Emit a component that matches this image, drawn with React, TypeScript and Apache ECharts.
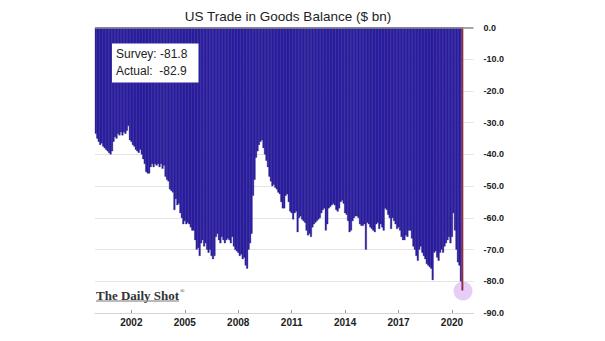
import React, { useEffect, useRef } from "react";
import * as echarts from "echarts";

// Monthly US goods trade balance ($ bn), Jan 2000 – Aug 2020
const y2000 = [-33.5, -35, -36, -37, -36.5, -37.5, -38, -38.5, -39, -39.5, -40, -39];
const y2001 = [-36, -34.5, -35, -33.5, -34, -33, -34, -33, -33.5, -32.5, -31, -35.5];
const y2002 = [-36, -37, -37.5, -38.5, -39, -39.5, -38.5, -40, -41.5, -43, -45.5, -46];
const y2003 = [-46, -44, -43, -44, -43, -43.5, -43, -44, -43, -44.5, -43.5, -47];
const y2004 = [-48, -48.5, -51, -51.5, -52, -57.5, -54, -56, -55.5, -58.5, -60, -62];
const y2005 = [-61, -62, -61.5, -62, -63, -64, -64, -67, -70, -69.5, -72, -68];
const y2006 = [-67, -69, -68, -70, -71, -70, -72, -73, -72, -66, -65, -67];
const y2007 = [-68, -66, -67, -68, -67, -66.5, -67, -68, -66, -69, -70, -70.5];
const y2008 = [-71, -72, -71.5, -73, -72.5, -75, -76, -70, -68, -65, -53, -48];
const y2009 = [-41, -39, -37, -36, -35.5, -38, -40, -42, -44, -47, -48.5, -50];
const y2010 = [-49.5, -50.5, -51, -52, -52.5, -55, -57, -57, -53, -52.5, -55, -58];
const y2011 = [-58.5, -60.5, -58.5, -58, -64.5, -60, -59.5, -60.5, -61, -61.5, -64, -65.5];
const y2012 = [-65, -66, -63, -62, -61.5, -61, -60.5, -60, -58.5, -57.5, -57, -64];
const y2013 = [-62, -57, -56.5, -56, -55.5, -56, -57.5, -58, -57, -55, -54.5, -55.5];
const y2014 = [-58.5, -59, -61, -64.5, -64, -61, -60, -59.5, -59.5, -60, -62, -62.5];
const y2015 = [-62.5, -62, -70, -61.5, -62, -63, -63.5, -64, -64.5, -62, -61.5, -63.5];
const y2016 = [-62, -63, -64, -57, -57.5, -59, -60, -63.5, -60, -61, -62, -63.5];
const y2017 = [-63, -64, -66, -67, -67, -65.5, -66, -64, -64, -66.5, -69, -70];
const y2018 = [-72, -73.5, -70, -69, -71, -72, -73, -74.5, -75, -75.5, -76, -79.6];
const y2019 = [-71, -70.5, -72.5, -73.5, -71, -70, -71, -69, -68, -67, -66, -68];
const y2020 = [-66, -58.5, -64, -70, -74, -75, -80, -82.9];

const yearly = [y2000, y2001, y2002, y2003, y2004, y2005, y2006, y2007, y2008, y2009, y2010,
  y2011, y2012, y2013, y2014, y2015, y2016, y2017, y2018, y2019, y2020];
const startYear = 2000;
const xTickYears = [2002, 2005, 2008, 2011, 2014, 2017, 2020];
const padMonths = 7; // empty slots after last bar
const titleText = "US Trade in Goods Balance ($ bn)";
const surveyText = "Survey: -81.8";
const actualText = "Actual:  -82.9";

export default function App() {
  const ref = useRef<HTMLDivElement>(null);
  useEffect(() => {
    if (!ref.current) return;
    const chart = echarts.init(ref.current, undefined, { renderer: "svg" });

    const cats: string[] = [];
    const vals: any[] = [];
    yearly.forEach((arr, yi) => {
      arr.forEach((v, mi) => {
        cats.push(`${startYear + yi}-${String(mi + 1).padStart(2, "0")}`);
        vals.push(v);
      });
    });
    const lastIdx = vals.length - 1;
    vals[lastIdx] = { value: vals[lastIdx], itemStyle: { color: "#8e2f45", borderColor: "#8e2f45" } };
    let extraYear = startYear + yearly.length - 1;
    let extraMonth = yearly[yearly.length - 1].length;
    for (let i = 0; i < padMonths; i++) {
      extraMonth++;
      if (extraMonth > 12) { extraMonth = 1; extraYear++; }
      cats.push(`${extraYear}-${String(extraMonth).padStart(2, "0")}`);
    }
    const isTick = (_i: number, v: string) => {
      const [y, m] = v.split("-");
      return m === "01" && xTickYears.includes(Number(y));
    };

    chart.setOption({
      animation: false,
      backgroundColor: "#ffffff",
      title: {
        text: titleText,
        left: 283,
        top: 4.5,
        textAlign: "center",
        textStyle: { fontFamily: "Liberation Sans", fontSize: 13.5, fontWeight: "normal", color: "#222" },
      },
      grid: { left: 95, right: 131.5, top: 27.5, bottom: 28 },
      xAxis: {
        type: "category",
        data: cats,
        boundaryGap: true,
        axisLine: { onZero: false, lineStyle: { color: "#d4d4d4", width: 1 } },
        axisTick: { show: true, inside: true, length: 3, alignWithLabel: true, interval: isTick, lineStyle: { color: "#999" } },
        axisLabel: {
          interval: isTick,
          formatter: (v: string) => v.split("-")[0],
          fontFamily: "Liberation Sans",
          fontWeight: "bold",
          fontSize: 10,
          color: "#222",
          margin: 4,
        },
        splitLine: { show: false },
      },
      yAxis: {
        type: "value",
        position: "right",
        min: -90,
        max: 0,
        interval: 10,
        axisLine: { show: false },
        axisTick: { show: false },
        axisLabel: {
          formatter: (v: number) => v.toFixed(1),
          fontFamily: "Liberation Sans",
          fontWeight: "bold",
          fontSize: 9,
          color: "#222",
          margin: 10,
        },
        splitLine: { lineStyle: { color: "#e4e4e4", width: 1 } },
      },
      series: [
        {
          type: "bar",
          data: vals,
          barWidth: 1.9,
          itemStyle: { color: "#2e20b2", borderColor: "#1a1660", borderWidth: 0.3 },
          markLine: {
            silent: true,
            symbol: ["none", "none"],
            label: { show: false },
            lineStyle: { color: "#8c8c8c", width: 1.5, type: "solid" },
            data: [{ yAxis: 0 }],
          },
        },
      ],
      graphic: [
        { type: "circle", shape: { cx: 463, cy: 291, r: 9.5 }, style: { fill: "rgba(226,196,246,0.85)" }, z: 0 },
        { type: "rect", shape: { x: 112, y: 43.5, width: 86.5, height: 39 }, style: { fill: "#ffffff" }, z: 10 },
        { type: "text", x: 116, y: 53.5, style: { text: surveyText, font: "12px 'Liberation Sans'", fill: "#222", verticalAlign: "middle" }, z: 11 },
        { type: "text", x: 116, y: 71, style: { text: actualText, font: "12px 'Liberation Sans'", fill: "#222", verticalAlign: "middle" }, z: 11 },
        { type: "text", x: 96, y: 295, style: { text: "The Daily Shot", font: "bold 13px 'Liberation Serif'", fill: "#333", verticalAlign: "middle" }, z: 11 },
        { type: "text", x: 180, y: 291, style: { text: "®", font: "6px 'Liberation Serif'", fill: "#333", verticalAlign: "middle" }, z: 11 },
        { type: "line", shape: { x1: 96, y1: 301, x2: 179, y2: 301 }, style: { stroke: "#777", lineWidth: 1 }, z: 11 },
      ],
    });
    return () => chart.dispose();
  }, []);
  return <div ref={ref} style={{ position: "fixed", left: 0, top: 0, width: 605, height: 341, background: "#fff" }} />;
}
